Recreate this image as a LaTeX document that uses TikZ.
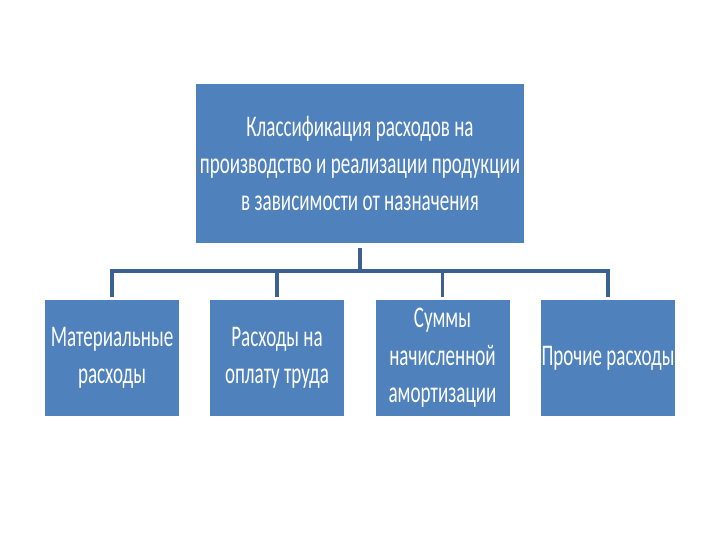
\documentclass[tikz,border=0pt]{standalone}
\usepackage{fontspec}
\setmainfont{Carlito}
\definecolor{boxblue}{HTML}{4F81BD}
\definecolor{linecol}{HTML}{3C6191}
\newcommand\sq[1]{\scalebox{0.635}[1]{#1}}
\begin{document}
\begin{tikzpicture}[x=0.75pt,y=-0.75pt,
  box/.style={fill=boxblue,draw=none,text=white,align=center,inner sep=0pt,
    font=\fontsize{22.5}{28}\selectfont},
  small/.style={box,minimum width=100.5pt,minimum height=87pt},
  conn/.style={draw=linecol,line width=2.3pt}]
\useasboundingbox (0,0) rectangle (720,540);
\node[box,minimum width=246pt,minimum height=119.25pt] (top) at (360,163.5)
  {\sq{Классификация расходов на}\\\sq{производство и реализации продукции}\\\sq{в зависимости от назначения}};
\node[small] (b1) at (112,358) {\sq{Материальные}\\\sq{расходы}};
\node[small] (b2) at (277,358) {\sq{Расходы на}\\\sq{оплату труда}};
\node[small] (b3) at (442.5,358) {\sq{Суммы}\\\sq{начисленной}\\\sq{амортизации}};
\node[small] (b4) at (608,358) {\sq{Прочие расходы}};
\coordinate (j) at (360,271);
\draw[conn,shorten <=3.5pt] (top) -- (j);
\draw[conn,shorten >=2pt] (j) -| (b1);
\draw[conn,shorten >=2pt] (j) -| (b2);
\draw[conn,shorten >=2pt] (j) -| (b3);
\draw[conn,shorten >=2pt] (j) -| (b4);
\end{tikzpicture}
\end{document}
